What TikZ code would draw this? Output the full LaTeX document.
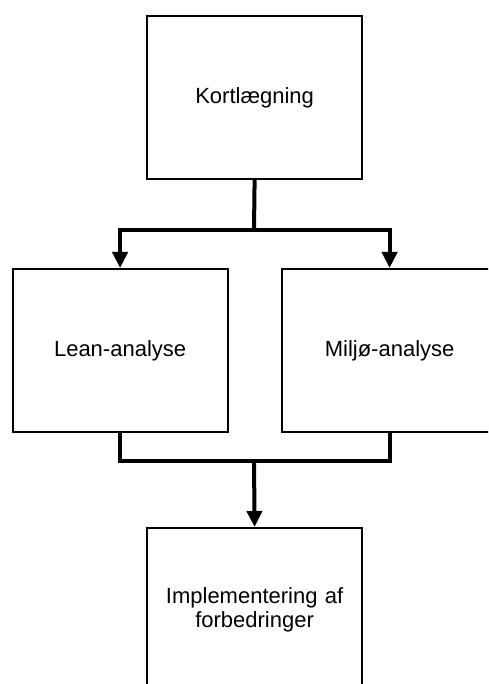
\documentclass[tikz,border=0pt]{standalone}
\usepackage{fontspec}
\setmainfont{Liberation Sans}
\usetikzlibrary{arrows.meta}
\tikzset{
  box/.style={draw=black, line width=2.2pt, rectangle, text width=205pt, minimum width=215pt, minimum height=163pt, inner sep=0pt, anchor=north west, font=\fontsize{22}{24}\selectfont, align=center},
  conn/.style={draw=black, line width=4pt, line join=miter},
  arr/.style={conn, -{Triangle[width=15pt,length=16pt]}}
}
\begin{document}
\begin{tikzpicture}[x=1pt,y=-1pt]
\useasboundingbox (0,0) rectangle (488,684);
\clip (0,0) rectangle (488,684);
\node[box] (top) at (146,15) {Kortlægning};
\node[box] (left) at (11.5,268) {Lean-analyse};
\node[box] (right) at (281,268) {Miljø-analyse};
\node[box] (bot) at (146,527) {Implementering af\\forbedringer};
\coordinate (j1) at (254,230);
\coordinate (j2) at (254,461);
\draw[conn] (top.south) -- (j1);
\draw[arr] (j1) -| (left.north);
\draw[arr] (j1) -| (right.north);
\draw[conn] (left.south) |- (j2) -| (right.south);
\draw[arr] (j2) -- (bot.north);
\end{tikzpicture}
\end{document}
